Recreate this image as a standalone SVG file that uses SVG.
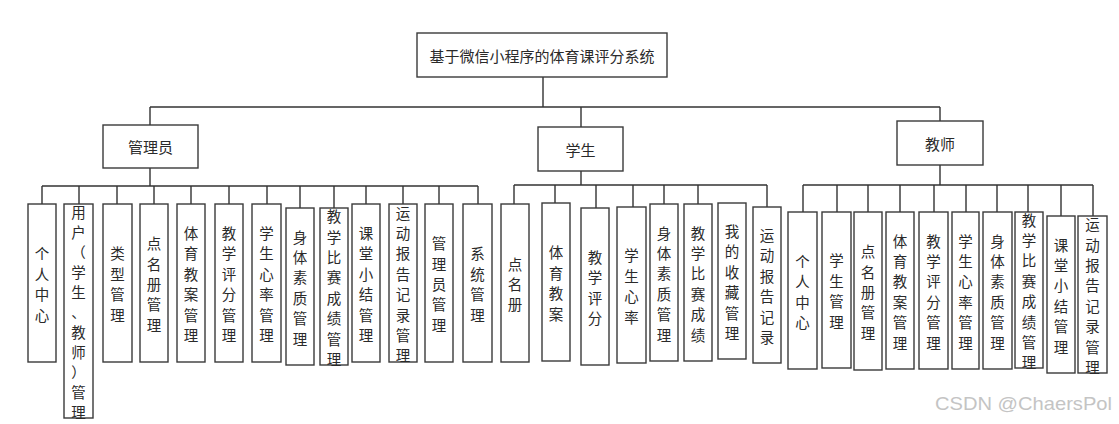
<svg xmlns="http://www.w3.org/2000/svg" width="1119" height="424" viewBox="0 0 1119 424">
<style>
.bx{fill:#fff;stroke:#3a3a3a;stroke-width:1.4}
.ln{fill:none;stroke:#333;stroke-width:1.4}
.t{font-family:"Noto Sans CJK SC","Noto Sans",sans-serif;font-size:15px;fill:#2a2a2a;text-anchor:middle;dominant-baseline:central}
.v{font-family:"Noto Sans CJK SC","Noto Sans",sans-serif;font-size:14.5px;fill:#2a2a2a;text-anchor:middle;dominant-baseline:central}
.wm{font-family:"Liberation Sans",Arial,sans-serif;font-size:19px;fill:#c4c4c4}
</style>
<rect width="1119" height="424" fill="#fff"/>
<g id="connectors" class="ln">
<path d="M543 77V107M150 107H940M150 107V125M581 107V127M940 107V121"/>
<path d="M150 168V186M42 186H478M42 186V204M79 186V204M117 186V204M154 186V204M191 186V204M229 186V204M267 186V204M300 186V208M334 186V208M366 186V204M403 186V204M439 186V204M478 186V204"/>
<path d="M581 171V185M514 185H767M514 185V204M555 185V203M596 185V208M633 185V207M664 185V204M698 185V204M767 185V207"/>
<path d="M940 165V185M803 185H1093M803 185V212M837 185V212M868 185V212M900 185V212M934 185V212M966 185V212M997 185V212M1028 185V212M1061 185V216M1093 185V216"/>
</g>
<g id="root"><rect class="bx" x="417" y="33" width="250" height="44"/><text class="t" x="542" y="55">基于微信小程序的体育课评分系统</text></g>
<g id="admin"><rect class="bx" x="103" y="125" width="95" height="43"/><text class="t" x="150.5" y="146.5">管理员</text></g>
<g id="student"><rect class="bx" x="538" y="127" width="85" height="44"/><text class="t" x="580.5" y="149">学生</text></g>
<g id="teacher"><rect class="bx" x="897" y="121" width="86" height="44"/><text class="t" x="940" y="143">教师</text></g>

<g id="a1"><rect class="bx" x="28" y="204" width="28" height="158"/><text class="v" x="42" y="252.4"><tspan x="42">个</tspan><tspan x="42" dy="20.4">人</tspan><tspan x="42" dy="20.4">中</tspan><tspan x="42" dy="20.4">心</tspan></text></g>
<g id="a2"><rect class="bx" x="64" y="204" width="29" height="214"/><text class="v" x="78.5" y="211"><tspan x="78.5">用</tspan><tspan x="78.5" dy="20">户</tspan><tspan x="78.5" dy="20">（</tspan><tspan x="78.5" dy="20">学</tspan><tspan x="78.5" dy="20">生</tspan><tspan x="78.5" dy="20">、</tspan><tspan x="78.5" dy="20">教</tspan><tspan x="78.5" dy="20">师</tspan><tspan x="78.5" dy="20">）</tspan><tspan x="78.5" dy="20">管</tspan><tspan x="78.5" dy="20">理</tspan></text></g>
<g id="a3"><rect class="bx" x="103" y="204" width="29" height="158"/><text class="v" x="117.5" y="252.4"><tspan x="117.5">类</tspan><tspan x="117.5" dy="20.4">型</tspan><tspan x="117.5" dy="20.4">管</tspan><tspan x="117.5" dy="20.4">理</tspan></text></g>
<g id="a4"><rect class="bx" x="140" y="204" width="28" height="158"/><text class="v" x="154" y="242.2"><tspan x="154">点</tspan><tspan x="154" dy="20.4">名</tspan><tspan x="154" dy="20.4">册</tspan><tspan x="154" dy="20.4">管</tspan><tspan x="154" dy="20.4">理</tspan></text></g>
<g id="a5"><rect class="bx" x="177" y="204" width="28" height="158"/><text class="v" x="191" y="232"><tspan x="191">体</tspan><tspan x="191" dy="20.4">育</tspan><tspan x="191" dy="20.4">教</tspan><tspan x="191" dy="20.4">案</tspan><tspan x="191" dy="20.4">管</tspan><tspan x="191" dy="20.4">理</tspan></text></g>
<g id="a6"><rect class="bx" x="215" y="204" width="28" height="158"/><text class="v" x="229" y="232"><tspan x="229">教</tspan><tspan x="229" dy="20.4">学</tspan><tspan x="229" dy="20.4">评</tspan><tspan x="229" dy="20.4">分</tspan><tspan x="229" dy="20.4">管</tspan><tspan x="229" dy="20.4">理</tspan></text></g>
<g id="a7"><rect class="bx" x="252" y="204" width="29" height="158"/><text class="v" x="266.5" y="232"><tspan x="266.5">学</tspan><tspan x="266.5" dy="20.4">生</tspan><tspan x="266.5" dy="20.4">心</tspan><tspan x="266.5" dy="20.4">率</tspan><tspan x="266.5" dy="20.4">管</tspan><tspan x="266.5" dy="20.4">理</tspan></text></g>
<g id="a8"><rect class="bx" x="286" y="208" width="28" height="157"/><text class="v" x="300" y="235.5"><tspan x="300">身</tspan><tspan x="300" dy="20.4">体</tspan><tspan x="300" dy="20.4">素</tspan><tspan x="300" dy="20.4">质</tspan><tspan x="300" dy="20.4">管</tspan><tspan x="300" dy="20.4">理</tspan></text></g>
<g id="a9"><rect class="bx" x="320" y="208" width="28" height="157"/><text class="v" x="334" y="215.1"><tspan x="334">教</tspan><tspan x="334" dy="20.4">学</tspan><tspan x="334" dy="20.4">比</tspan><tspan x="334" dy="20.4">赛</tspan><tspan x="334" dy="20.4">成</tspan><tspan x="334" dy="20.4">绩</tspan><tspan x="334" dy="20.4">管</tspan><tspan x="334" dy="20.4">理</tspan></text></g>
<g id="a10"><rect class="bx" x="352" y="204" width="28" height="158"/><text class="v" x="366" y="232"><tspan x="366">课</tspan><tspan x="366" dy="20.4">堂</tspan><tspan x="366" dy="20.4">小</tspan><tspan x="366" dy="20.4">结</tspan><tspan x="366" dy="20.4">管</tspan><tspan x="366" dy="20.4">理</tspan></text></g>
<g id="a11"><rect class="bx" x="389" y="204" width="28" height="158"/><text class="v" x="403" y="211.6"><tspan x="403">运</tspan><tspan x="403" dy="20.4">动</tspan><tspan x="403" dy="20.4">报</tspan><tspan x="403" dy="20.4">告</tspan><tspan x="403" dy="20.4">记</tspan><tspan x="403" dy="20.4">录</tspan><tspan x="403" dy="20.4">管</tspan><tspan x="403" dy="20.4">理</tspan></text></g>
<g id="a12"><rect class="bx" x="425" y="204" width="28" height="158"/><text class="v" x="439" y="242.2"><tspan x="439">管</tspan><tspan x="439" dy="20.4">理</tspan><tspan x="439" dy="20.4">员</tspan><tspan x="439" dy="20.4">管</tspan><tspan x="439" dy="20.4">理</tspan></text></g>
<g id="a13"><rect class="bx" x="463" y="204" width="29" height="158"/><text class="v" x="477.5" y="252.4"><tspan x="477.5">系</tspan><tspan x="477.5" dy="20.4">统</tspan><tspan x="477.5" dy="20.4">管</tspan><tspan x="477.5" dy="20.4">理</tspan></text></g>

<g id="s1"><rect class="bx" x="501" y="204" width="28" height="158"/><text class="v" x="515" y="262.6"><tspan x="515">点</tspan><tspan x="515" dy="20.4">名</tspan><tspan x="515" dy="20.4">册</tspan></text></g>
<g id="s2"><rect class="bx" x="542" y="203" width="28" height="158"/><text class="v" x="556" y="251.4"><tspan x="556">体</tspan><tspan x="556" dy="20.4">育</tspan><tspan x="556" dy="20.4">教</tspan><tspan x="556" dy="20.4">案</tspan></text></g>
<g id="s3"><rect class="bx" x="581" y="208" width="28" height="157"/><text class="v" x="595" y="255.9"><tspan x="595">教</tspan><tspan x="595" dy="20.4">学</tspan><tspan x="595" dy="20.4">评</tspan><tspan x="595" dy="20.4">分</tspan></text></g>
<g id="s4"><rect class="bx" x="617" y="207" width="29" height="156"/><text class="v" x="631.5" y="254.4"><tspan x="631.5">学</tspan><tspan x="631.5" dy="20.4">生</tspan><tspan x="631.5" dy="20.4">心</tspan><tspan x="631.5" dy="20.4">率</tspan></text></g>
<g id="s5"><rect class="bx" x="650" y="204" width="28" height="157"/><text class="v" x="664" y="231.5"><tspan x="664">身</tspan><tspan x="664" dy="20.4">体</tspan><tspan x="664" dy="20.4">素</tspan><tspan x="664" dy="20.4">质</tspan><tspan x="664" dy="20.4">管</tspan><tspan x="664" dy="20.4">理</tspan></text></g>
<g id="s6"><rect class="bx" x="684" y="204" width="28" height="157"/><text class="v" x="698" y="231.5"><tspan x="698">教</tspan><tspan x="698" dy="20.4">学</tspan><tspan x="698" dy="20.4">比</tspan><tspan x="698" dy="20.4">赛</tspan><tspan x="698" dy="20.4">成</tspan><tspan x="698" dy="20.4">绩</tspan></text></g>
<g id="s7"><rect class="bx" x="718" y="203" width="28" height="156"/><text class="v" x="732" y="230"><tspan x="732">我</tspan><tspan x="732" dy="20.4">的</tspan><tspan x="732" dy="20.4">收</tspan><tspan x="732" dy="20.4">藏</tspan><tspan x="732" dy="20.4">管</tspan><tspan x="732" dy="20.4">理</tspan></text></g>
<g id="s8"><rect class="bx" x="753" y="207" width="28" height="156"/><text class="v" x="767" y="234"><tspan x="767">运</tspan><tspan x="767" dy="20.4">动</tspan><tspan x="767" dy="20.4">报</tspan><tspan x="767" dy="20.4">告</tspan><tspan x="767" dy="20.4">记</tspan><tspan x="767" dy="20.4">录</tspan></text></g>

<g id="t1"><rect class="bx" x="788" y="212" width="29" height="157"/><text class="v" x="802.5" y="259.9"><tspan x="802.5">个</tspan><tspan x="802.5" dy="20.4">人</tspan><tspan x="802.5" dy="20.4">中</tspan><tspan x="802.5" dy="20.4">心</tspan></text></g>
<g id="t2"><rect class="bx" x="822" y="212" width="29" height="156"/><text class="v" x="836.5" y="259.4"><tspan x="836.5">学</tspan><tspan x="836.5" dy="20.4">生</tspan><tspan x="836.5" dy="20.4">管</tspan><tspan x="836.5" dy="20.4">理</tspan></text></g>
<g id="t3"><rect class="bx" x="854" y="212" width="28" height="158"/><text class="v" x="868" y="250.2"><tspan x="868">点</tspan><tspan x="868" dy="20.4">名</tspan><tspan x="868" dy="20.4">册</tspan><tspan x="868" dy="20.4">管</tspan><tspan x="868" dy="20.4">理</tspan></text></g>
<g id="t4"><rect class="bx" x="886" y="212" width="28" height="157"/><text class="v" x="900" y="239.5"><tspan x="900">体</tspan><tspan x="900" dy="20.4">育</tspan><tspan x="900" dy="20.4">教</tspan><tspan x="900" dy="20.4">案</tspan><tspan x="900" dy="20.4">管</tspan><tspan x="900" dy="20.4">理</tspan></text></g>
<g id="t5"><rect class="bx" x="919" y="212" width="29" height="157"/><text class="v" x="933.5" y="239.5"><tspan x="933.5">教</tspan><tspan x="933.5" dy="20.4">学</tspan><tspan x="933.5" dy="20.4">评</tspan><tspan x="933.5" dy="20.4">分</tspan><tspan x="933.5" dy="20.4">管</tspan><tspan x="933.5" dy="20.4">理</tspan></text></g>
<g id="t6"><rect class="bx" x="952" y="212" width="27" height="157"/><text class="v" x="965.5" y="239.5"><tspan x="965.5">学</tspan><tspan x="965.5" dy="20.4">生</tspan><tspan x="965.5" dy="20.4">心</tspan><tspan x="965.5" dy="20.4">率</tspan><tspan x="965.5" dy="20.4">管</tspan><tspan x="965.5" dy="20.4">理</tspan></text></g>
<g id="t7"><rect class="bx" x="983" y="212" width="29" height="157"/><text class="v" x="997.5" y="239.5"><tspan x="997.5">身</tspan><tspan x="997.5" dy="20.4">体</tspan><tspan x="997.5" dy="20.4">素</tspan><tspan x="997.5" dy="20.4">质</tspan><tspan x="997.5" dy="20.4">管</tspan><tspan x="997.5" dy="20.4">理</tspan></text></g>
<g id="t8"><rect class="bx" x="1015" y="212" width="28" height="156"/><text class="v" x="1029" y="218.6"><tspan x="1029">教</tspan><tspan x="1029" dy="20.4">学</tspan><tspan x="1029" dy="20.4">比</tspan><tspan x="1029" dy="20.4">赛</tspan><tspan x="1029" dy="20.4">成</tspan><tspan x="1029" dy="20.4">绩</tspan><tspan x="1029" dy="20.4">管</tspan><tspan x="1029" dy="20.4">理</tspan></text></g>
<g id="t9"><rect class="bx" x="1047" y="216" width="28" height="157"/><text class="v" x="1061" y="243.5"><tspan x="1061">课</tspan><tspan x="1061" dy="20.4">堂</tspan><tspan x="1061" dy="20.4">小</tspan><tspan x="1061" dy="20.4">结</tspan><tspan x="1061" dy="20.4">管</tspan><tspan x="1061" dy="20.4">理</tspan></text></g>
<g id="t10"><rect class="bx" x="1078" y="216" width="29" height="157"/><text class="v" x="1092.5" y="223.1"><tspan x="1092.5">运</tspan><tspan x="1092.5" dy="20.4">动</tspan><tspan x="1092.5" dy="20.4">报</tspan><tspan x="1092.5" dy="20.4">告</tspan><tspan x="1092.5" dy="20.4">记</tspan><tspan x="1092.5" dy="20.4">录</tspan><tspan x="1092.5" dy="20.4">管</tspan><tspan x="1092.5" dy="20.4">理</tspan></text></g>

<text class="wm" x="935" y="410" textLength="177" lengthAdjust="spacingAndGlyphs">CSDN @ChaersPol</text>
</svg>
